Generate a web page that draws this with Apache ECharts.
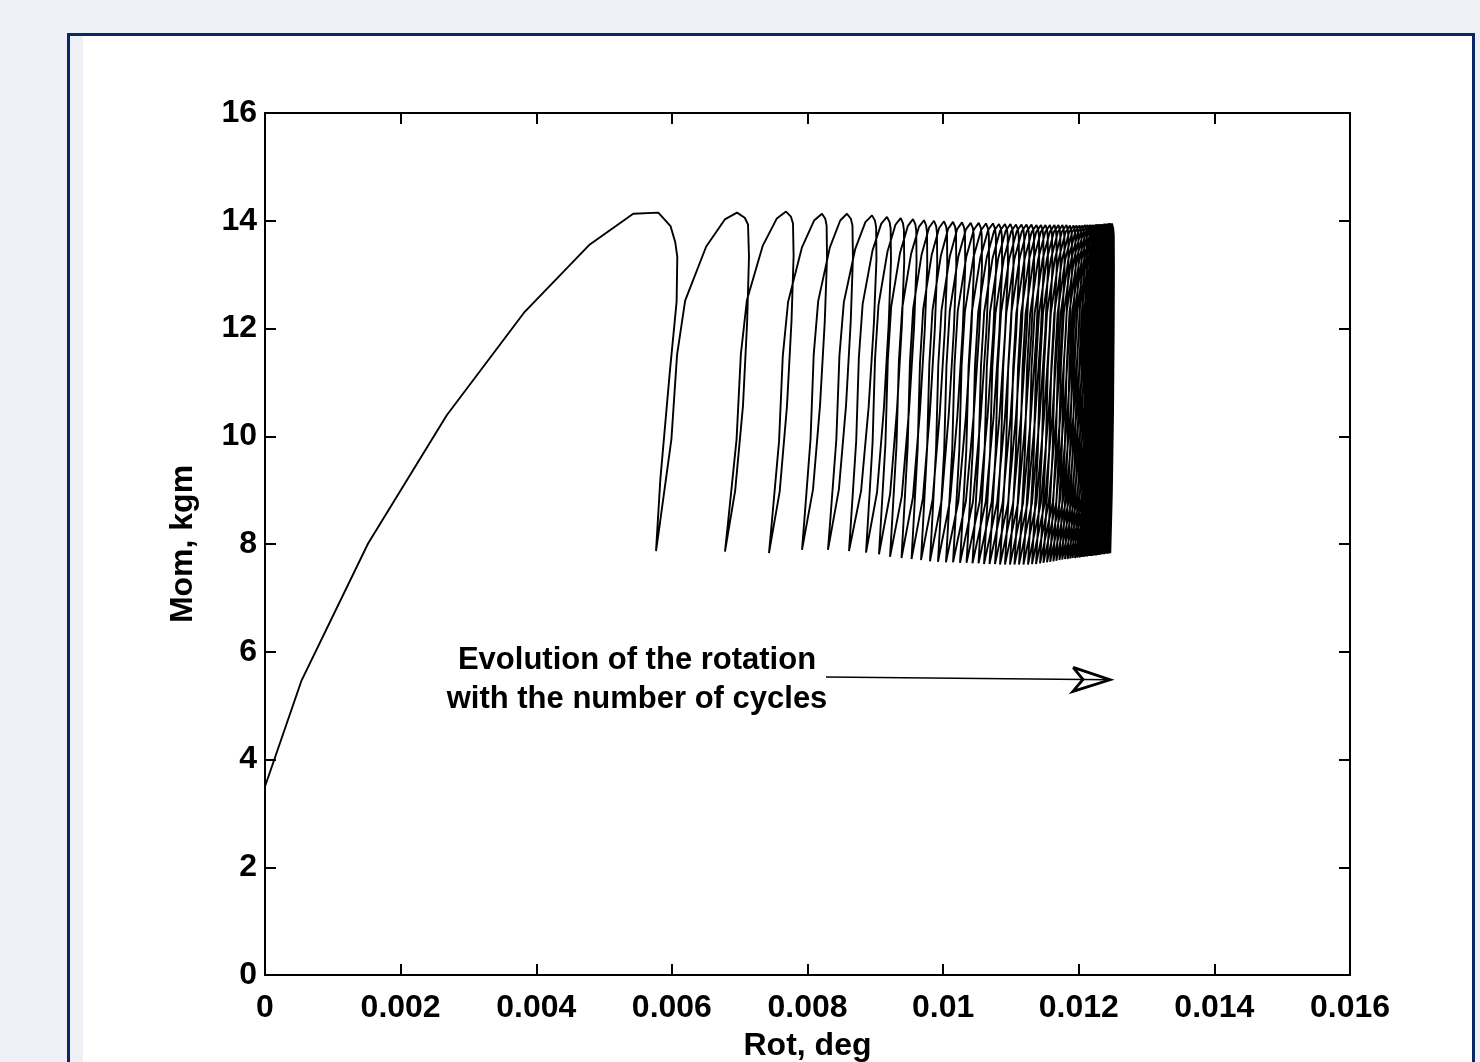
<!DOCTYPE html>
<html>
<head>
<meta charset="utf-8">
<script src="https://cdn.jsdelivr.net/npm/echarts@6/dist/echarts.min.js"></script>
<style>
  html, body { margin: 0; padding: 0; background: #eff0f5; width: 1480px; height: 1062px; overflow: hidden; }
  #frame { position: absolute; left: 67px; top: 33px; width: 1402px; height: 1100px; border: 3px solid #0b2864; background: #eff0f5; }
  #panel { position: absolute; left: 13px; top: 0; right: 0; bottom: 0; background: #fff; }
  #chart { position: absolute; left: 0; top: 0; width: 1480px; height: 1062px; }
</style>
</head>
<body>
<div id="frame"><div id="panel"></div></div>
<div id="chart"></div>
<script>
// first loading branch and first unloading
const envelopeRot = [0, 0.00054, 0.00152, 0.00268, 0.00383, 0.00479, 0.00543, 0.0058, 0.00598, 0.00605, 0.00608, 0.00607, 0.00597, 0.00583, 0.005766];
const envelopeMom = [3.5, 5.47, 8.01, 10.39, 12.31, 13.56, 14.13, 14.15, 13.9, 13.6, 13.33, 12.5, 11.2, 9.2, 7.87];

// lower turning point of every cycle
const bottomRot = [0.005766, 0.006783, 0.007432, 0.007919, 0.008302, 0.008612, 0.008863, 0.009054, 0.009217, 0.009386,
  0.009534, 0.009674, 0.009806, 0.009924, 0.010042, 0.010146, 0.010249, 0.010345, 0.010433, 0.010522,
  0.010603, 0.010684, 0.010765, 0.010839, 0.010912, 0.010986, 0.011052, 0.011119, 0.011185, 0.011252,
  0.011311, 0.011370, 0.011429, 0.011480, 0.011532, 0.011579, 0.011626, 0.011670, 0.011715, 0.011756,
  0.011797, 0.011836, 0.011874, 0.011909, 0.011945, 0.011977, 0.012010, 0.012039, 0.012069, 0.012097,
  0.012123, 0.012148, 0.012172, 0.012194, 0.012216, 0.012237, 0.012256, 0.012274, 0.012290, 0.012305,
  0.012319, 0.012333, 0.012344, 0.012355, 0.012365, 0.012376, 0.012386, 0.012395, 0.012404, 0.012412,
  0.012421, 0.012429, 0.012436, 0.012443, 0.012449, 0.012455, 0.012461, 0.012465];
const bottomMom = [7.87, 7.86, 7.83, 7.89, 7.89, 7.87, 7.84, 7.81, 7.76, 7.74,
  7.72, 7.70, 7.68, 7.67, 7.66, 7.66, 7.65, 7.65, 7.64, 7.64,
  7.63, 7.63, 7.63, 7.62, 7.62, 7.62, 7.62, 7.62, 7.62, 7.62,
  7.63, 7.63, 7.64, 7.65, 7.66, 7.67, 7.68, 7.69, 7.70, 7.71,
  7.72, 7.72, 7.73, 7.74, 7.74, 7.75, 7.75, 7.76, 7.76, 7.77,
  7.77, 7.78, 7.78, 7.78, 7.79, 7.79, 7.79, 7.80, 7.80, 7.80,
  7.80, 7.81, 7.81, 7.81, 7.81, 7.81, 7.82, 7.82, 7.82, 7.82,
  7.82, 7.82, 7.82, 7.83, 7.83, 7.83, 7.83, 7.83];

// upper turning point of every cycle
const peakRot = [0.006960, 0.007683, 0.008214, 0.008582, 0.008951, 0.009172, 0.009374, 0.009556, 0.009718, 0.009865,
  0.010013, 0.010146, 0.010278, 0.010407, 0.010525, 0.010632, 0.010735, 0.010824, 0.010912, 0.010993,
  0.011075, 0.011156, 0.011230, 0.011303, 0.011377, 0.011443, 0.011510, 0.011576, 0.011642, 0.011701,
  0.011760, 0.011819, 0.011871, 0.011923, 0.011967, 0.012011, 0.012052, 0.012092, 0.012129, 0.012166,
  0.012198, 0.012231, 0.012259, 0.012287, 0.012312, 0.012336, 0.012358, 0.012377, 0.012395, 0.012411,
  0.012424, 0.012436, 0.012446, 0.012455, 0.012462, 0.012468, 0.012473, 0.012476, 0.012479, 0.012480,
  0.012482, 0.012483, 0.012483, 0.012485, 0.012485, 0.012486, 0.012486, 0.012486, 0.012487, 0.012487,
  0.012487, 0.012487, 0.012489, 0.012489, 0.012489, 0.012489, 0.012489];
const peakMom = [14.15, 14.17, 14.13, 14.13, 14.10, 14.07, 14.05, 14.03, 14.01, 14.00,
  13.99, 13.98, 13.97, 13.96, 13.96, 13.95, 13.95, 13.94, 13.94, 13.94,
  13.93, 13.93, 13.93, 13.93, 13.92, 13.92, 13.92, 13.92, 13.92, 13.92,
  13.92, 13.92, 13.91, 13.91, 13.91, 13.91, 13.91, 13.92, 13.92, 13.92,
  13.92, 13.92, 13.93, 13.93, 13.93, 13.93, 13.93, 13.94, 13.94, 13.94,
  13.94, 13.94, 13.94, 13.95, 13.95, 13.95, 13.95, 13.95, 13.95, 13.95,
  13.95, 13.95, 13.95, 13.95, 13.95, 13.95, 13.95, 13.95, 13.95, 13.95,
  13.95, 13.95, 13.95, 13.95, 13.95, 13.95, 13.95];

// rightward overshoot just after each peak, later ones are small
const bulgeRot = [0.000177, 0.000112, 0.000074, 0.000088, 0.000066, 0.000059, 0.000052, 0.000052, 0.000048, 0.000048,
  0.000048, 0.000048, 0.000048, 0.000048, 0.000048, 0.000046, 0.000046, 0.000046, 0.000044, 0.000044,
  0.000044, 0.000042, 0.000042, 0.000040, 0.000040, 0.000038, 0.000036, 0.000034, 0.000032, 0.000030];
const lateBulge = 0.00003;

// shape of one loop measured on the 2nd cycle: [share of dx, share of dy]
const riseShape = [[0, 0], [0.05, 0.085], [0.19, 0.33], [0.26, 0.58], [0.36, 0.74], [0.62, 0.90], [0.85, 0.98], [1, 1]];
// [share of drop, weight of overshoot, share of move back]
const descentShape = [[0, 0, 0], [0.015, 0.65, 0], [0.035, 0.92, 0], [0.13, 1, 0], [0.32, 0.95, 0.1], [0.57, 0.8, 0.3], [0.82, 0.4, 0.55], [1, 0, 1]];

const noteLines = ['Evolution of the rotation', 'with the number of cycles'];
const noteAt = [0.005486, 5.485];
const arrowFrom = [0.008273, 5.53];
const arrowTo = [0.012461, 5.48];

const points = [];
for (let i = 0; i < envelopeRot.length; i++) {
    points.push([envelopeRot[i], envelopeMom[i]]);
}
for (let i = 0; i < peakRot.length; i++) {
    const x0 = bottomRot[i], y0 = bottomMom[i];
    const xp = peakRot[i], yp = peakMom[i];
    riseShape.forEach(function (s, k) {
        if (k > 0) points.push([x0 + s[0] * (xp - x0), y0 + s[1] * (yp - y0)]);
    });
    const xb = bottomRot[i + 1], yb = bottomMom[i + 1];
    const bulge = i < bulgeRot.length ? bulgeRot[i] : lateBulge;
    descentShape.forEach(function (s, k) {
        if (k > 0) points.push([xp + bulge * s[1] + s[2] * (xb - xp), yp - s[0] * (yp - yb)]);
    });
}

const font = "'Liberation Sans', Arial, Helvetica, sans-serif";
const axisCommon = {
    axisLine: { show: true, onZero: false, lineStyle: { color: '#000', width: 2 } },
    axisTick: { show: true, inside: true, length: 11, lineStyle: { color: '#000', width: 2 } },
    splitLine: { show: false }
};

const renderNote = function (params, api) {
    const t = api.coord(noteAt);
    const a = api.coord(arrowFrom);
    const b = api.coord(arrowTo);
    const ang = Math.atan2(b[1] - a[1], b[0] - a[0]);
    const c = Math.cos(ang), s = Math.sin(ang);
    const pt = function (back, side) {
        return [b[0] - back * c - side * s, b[1] - back * s + side * c];
    };
    return {
        type: 'group',
        children: [
            {
                type: 'text',
                x: t[0], y: t[1],
                style: {
                    text: noteLines.join('\n'),
                    font: 'bold 31px ' + font,
                    lineHeight: 39,
                    fill: '#000',
                    align: 'center',
                    verticalAlign: 'middle'
                }
            },
            {
                type: 'line',
                shape: { x1: a[0], y1: a[1], x2: b[0], y2: b[1] },
                style: { stroke: '#000', lineWidth: 1.6 }
            },
            {
                type: 'polyline',
                shape: { points: [pt(37, -12), b, pt(37, 12), pt(27, 0), pt(37, -12)] },
                style: { stroke: '#000', lineWidth: 2.8, fill: null, lineJoin: 'miter' }
            }
        ]
    };
};

const chart = echarts.init(document.getElementById('chart'));
chart.setOption({
    animation: false,
    backgroundColor: 'transparent',
    grid: { left: 265, right: 130, top: 113, bottom: 87, containLabel: false, outerBoundsMode: 'none' },
    xAxis: [
        Object.assign({
            type: 'value', min: 0, max: 0.016, interval: 0.002, position: 'bottom',
            name: 'Rot, deg', nameLocation: 'middle', nameGap: 55,
            nameTextStyle: { color: '#000', fontSize: 32, fontWeight: 'bold', fontFamily: font },
            axisLabel: {
                color: '#000', fontSize: 32, fontWeight: 'bold', fontFamily: font, margin: 17,
                formatter: function (v) { return String(+v.toFixed(3)); }
            }
        }, axisCommon),
        Object.assign({
            type: 'value', min: 0, max: 0.016, interval: 0.002, position: 'top',
            axisLabel: { show: false }
        }, axisCommon)
    ],
    yAxis: [
        Object.assign({
            type: 'value', min: 0, max: 16, interval: 2, position: 'left',
            name: 'Mom, kgm', nameLocation: 'middle', nameGap: 66,
            nameTextStyle: { color: '#000', fontSize: 32, fontWeight: 'bold', fontFamily: font },
            axisLabel: { color: '#000', fontSize: 32, fontWeight: 'bold', fontFamily: font, margin: 8 }
        }, axisCommon),
        Object.assign({
            type: 'value', min: 0, max: 16, interval: 2, position: 'right',
            axisLabel: { show: false }
        }, axisCommon)
    ],
    series: [
        {
            type: 'line',
            data: points,
            showSymbol: false,
            symbol: 'none',
            clip: true,
            lineStyle: { color: '#000', width: 1.9 },
            z: 2
        },
        {
            type: 'custom',
            renderItem: renderNote,
            data: [[0, 0]],
            silent: true,
            z: 3
        }
    ]
});
</script>
</body>
</html>
